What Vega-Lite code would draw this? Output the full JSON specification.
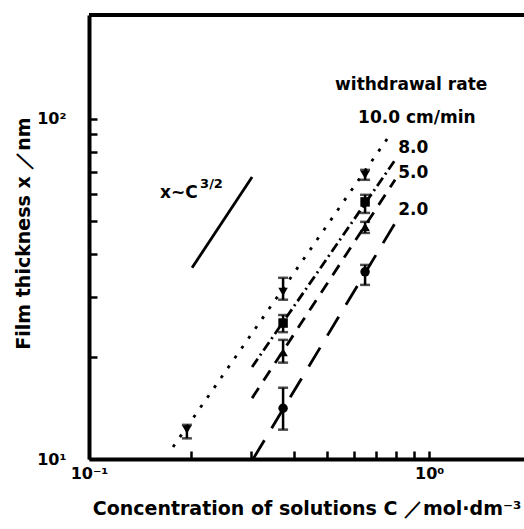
{
  "$schema": "https://vega.github.io/schema/vega-lite/v6.json",
  "autosize": {"type": "none"},
  "padding": {"left": 89, "top": 15, "right": 0, "bottom": 70},
  "width": 435,
  "height": 444,
  "background": "white",
  "config": {"view": {"stroke": null}, "font": "DejaVu Sans"},
  "datasets": {
    "points": [
      {"series": "10.0", "c": 0.194, "t": 12.2, "lo": 11.5, "hi": 12.6},
      {"series": "10.0", "c": 0.372, "t": 31.0, "lo": 29.4, "hi": 34.1},
      {"series": "10.0", "c": 0.648, "t": 68.4, "lo": 66.2, "hi": 70.8},
      {"series": "8.0", "c": 0.372, "t": 25.1, "lo": 23.6, "hi": 26.5},
      {"series": "8.0", "c": 0.648, "t": 57.0, "lo": 52.9, "hi": 59.8},
      {"series": "5.0", "c": 0.372, "t": 20.6, "lo": 19.2, "hi": 22.4},
      {"series": "5.0", "c": 0.648, "t": 48.1, "lo": 46.2, "hi": 49.8},
      {"series": "2.0", "c": 0.372, "t": 14.1, "lo": 12.2, "hi": 16.2},
      {"series": "2.0", "c": 0.648, "t": 35.5, "lo": 32.5, "hi": 37.2}
    ],
    "fits": [
      {"series": "10.0", "c": 0.1766, "t": 10.85},
      {"series": "10.0", "c": 0.778, "t": 91.6},
      {"series": "8.0", "c": 0.3016, "t": 18.65},
      {"series": "8.0", "c": 0.794, "t": 75.7},
      {"series": "5.0", "c": 0.3016, "t": 15.1},
      {"series": "5.0", "c": 0.794, "t": 66.2},
      {"series": "2.0", "c": 0.3036, "t": 10.0},
      {"series": "2.0", "c": 0.805, "t": 50.5}
    ],
    "slope": [
      {"c": 0.2009, "t": 36.5},
      {"c": 0.3016, "t": 67.5}
    ],
    "labels": [
      {"text": "withdrawal rate", "c": 0.529, "t": 125.9, "role": "main"},
      {"text": "10.0 cm/min", "c": 0.618, "t": 100.7, "role": "main"},
      {"text": "8.0", "c": 0.811, "t": 82.2, "role": "main"},
      {"text": "5.0", "c": 0.811, "t": 69.4, "role": "main"},
      {"text": "2.0", "c": 0.811, "t": 54.0, "role": "main"},
      {"text": "x~C", "c": 0.1618, "t": 60.6, "role": "main"},
      {"text": "3/2", "c": 0.2121, "t": 64.4, "role": "sup"}
    ]
  },
  "layer": [
    {
      "data": {"name": "points"},
      "mark": {"type": "point", "filled": true, "size": 90, "color": "black", "opacity": 1},
      "encoding": {
        "x": {
          "field": "c", "type": "quantitative",
          "title": "Concentration of solutions C ／mol·dm⁻³",
          "scale": {"type": "log", "domain": [0.1, 1.9], "nice": false},
          "axis": {
            "title": "Concentration of solutions C ／mol·dm⁻³",
            "titleFont": "DejaVu Sans", "titleFontSize": 19, "titleFontWeight": "bold", "titleColor": "black",
            "titlePadding": 18,
            "values": [0.1, 0.2, 0.3, 0.4, 0.5, 0.6, 0.7, 0.8, 0.9, 1],
            "labelExpr": "abs(datum.value - 0.1) < 1e-6 ? '10⁻¹' : abs(datum.value - 1) < 1e-6 ? '10⁰' : ''",
            "labelFont": "DejaVu Sans", "labelFontSize": 16, "labelFontWeight": "bold", "labelColor": "black",
            "labelPadding": 14, "labelOverlap": false, "labelFlush": false, "labelBound": false,
            "grid": false,
            "domainColor": "black", "domainWidth": 4,
            "ticks": true,
            "tickColor": "black", "tickWidth": 2.5, "tickSize": -8
          }
        },
        "y": {
          "field": "t", "type": "quantitative",
          "title": "Film thickness x ／nm",
          "scale": {"type": "log", "domain": [10, 202], "nice": false},
          "axis": {
            "title": "Film thickness x ／nm",
            "titleFont": "DejaVu Sans", "titleFontSize": 19, "titleFontWeight": "bold", "titleColor": "black",
            "titleX": -66, "titleY": 218, "titleBaseline": "middle", "titleAngle": -90,
            "values": [10, 20, 30, 40, 50, 60, 70, 80, 90, 100],
            "labelExpr": "datum.value == 10 ? '10¹' : datum.value == 100 ? '10²' : ''",
            "labelFont": "DejaVu Sans", "labelFontSize": 16, "labelFontWeight": "bold", "labelColor": "black",
            "labelPadding": 31, "labelOverlap": false, "labelFlush": false, "labelBound": false,
            "grid": false,
            "domainColor": "black", "domainWidth": 4,
            "ticks": true,
            "tickColor": "black", "tickWidth": 2.5, "tickSize": -8
          }
        },
        "shape": {
          "field": "series", "type": "nominal",
          "scale": {"domain": ["10.0", "8.0", "5.0", "2.0"], "range": ["triangle-down", "square", "triangle-up", "circle"]},
          "legend": null
        }
      }
    },
    {
      "data": {"name": "points"},
      "mark": {"type": "errorbar", "ticks": true, "size": 10, "thickness": 2.5, "color": "black"},
      "encoding": {
        "x": {"field": "c", "type": "quantitative", "title": "Concentration of solutions C ／mol·dm⁻³", "scale": {"type": "log", "domain": [0.1, 1.9], "nice": false}},
        "y": {"field": "lo", "type": "quantitative", "title": "Film thickness x ／nm", "scale": {"type": "log", "domain": [10, 202], "nice": false}},
        "y2": {"field": "hi"}
      }
    },
    {
      "data": {"name": "fits"},
      "mark": {"type": "line", "color": "black", "strokeWidth": 2.8, "strokeCap": "butt"},
      "encoding": {
        "x": {"field": "c", "type": "quantitative", "title": "Concentration of solutions C ／mol·dm⁻³", "scale": {"type": "log", "domain": [0.1, 1.9], "nice": false}},
        "y": {"field": "t", "type": "quantitative", "title": "Film thickness x ／nm", "scale": {"type": "log", "domain": [10, 202], "nice": false}},
        "detail": {"field": "series", "type": "nominal"},
        "strokeDash": {
          "field": "series", "type": "nominal",
          "scale": {"domain": ["10.0", "8.0", "5.0", "2.0"], "range": [[3, 9], [10, 4, 2, 4], [12, 9], [22, 14]]},
          "legend": null
        }
      }
    },
    {
      "data": {"name": "slope"},
      "mark": {"type": "line", "color": "black", "strokeWidth": 2.8},
      "encoding": {
        "x": {"field": "c", "type": "quantitative", "title": "Concentration of solutions C ／mol·dm⁻³", "scale": {"type": "log", "domain": [0.1, 1.9], "nice": false}},
        "y": {"field": "t", "type": "quantitative", "title": "Film thickness x ／nm", "scale": {"type": "log", "domain": [10, 202], "nice": false}}
      }
    },
    {
      "data": {"name": "labels"},
      "transform": [{"filter": "datum.role == 'main'"}],
      "mark": {"type": "text", "align": "left", "baseline": "middle", "font": "DejaVu Sans", "fontSize": 17, "fontWeight": "bold", "color": "black"},
      "encoding": {
        "x": {"field": "c", "type": "quantitative", "title": "Concentration of solutions C ／mol·dm⁻³", "scale": {"type": "log", "domain": [0.1, 1.9], "nice": false}},
        "y": {"field": "t", "type": "quantitative", "title": "Film thickness x ／nm", "scale": {"type": "log", "domain": [10, 202], "nice": false}},
        "text": {"field": "text"}
      }
    },
    {
      "data": {"name": "labels"},
      "transform": [{"filter": "datum.role == 'sup'"}],
      "mark": {"type": "text", "align": "left", "baseline": "middle", "font": "DejaVu Sans", "fontSize": 13, "fontWeight": "bold", "color": "black"},
      "encoding": {
        "x": {"field": "c", "type": "quantitative", "title": "Concentration of solutions C ／mol·dm⁻³", "scale": {"type": "log", "domain": [0.1, 1.9], "nice": false}},
        "y": {"field": "t", "type": "quantitative", "title": "Film thickness x ／nm", "scale": {"type": "log", "domain": [10, 202], "nice": false}},
        "text": {"field": "text"}
      }
    },
    {
      "data": {"values": [{}]},
      "mark": {"type": "rule", "color": "black", "strokeWidth": 4},
      "encoding": {
        "y": {"datum": 202, "type": "quantitative", "title": "Film thickness x ／nm", "scale": {"type": "log", "domain": [10, 202], "nice": false}}
      }
    }
  ]
}
